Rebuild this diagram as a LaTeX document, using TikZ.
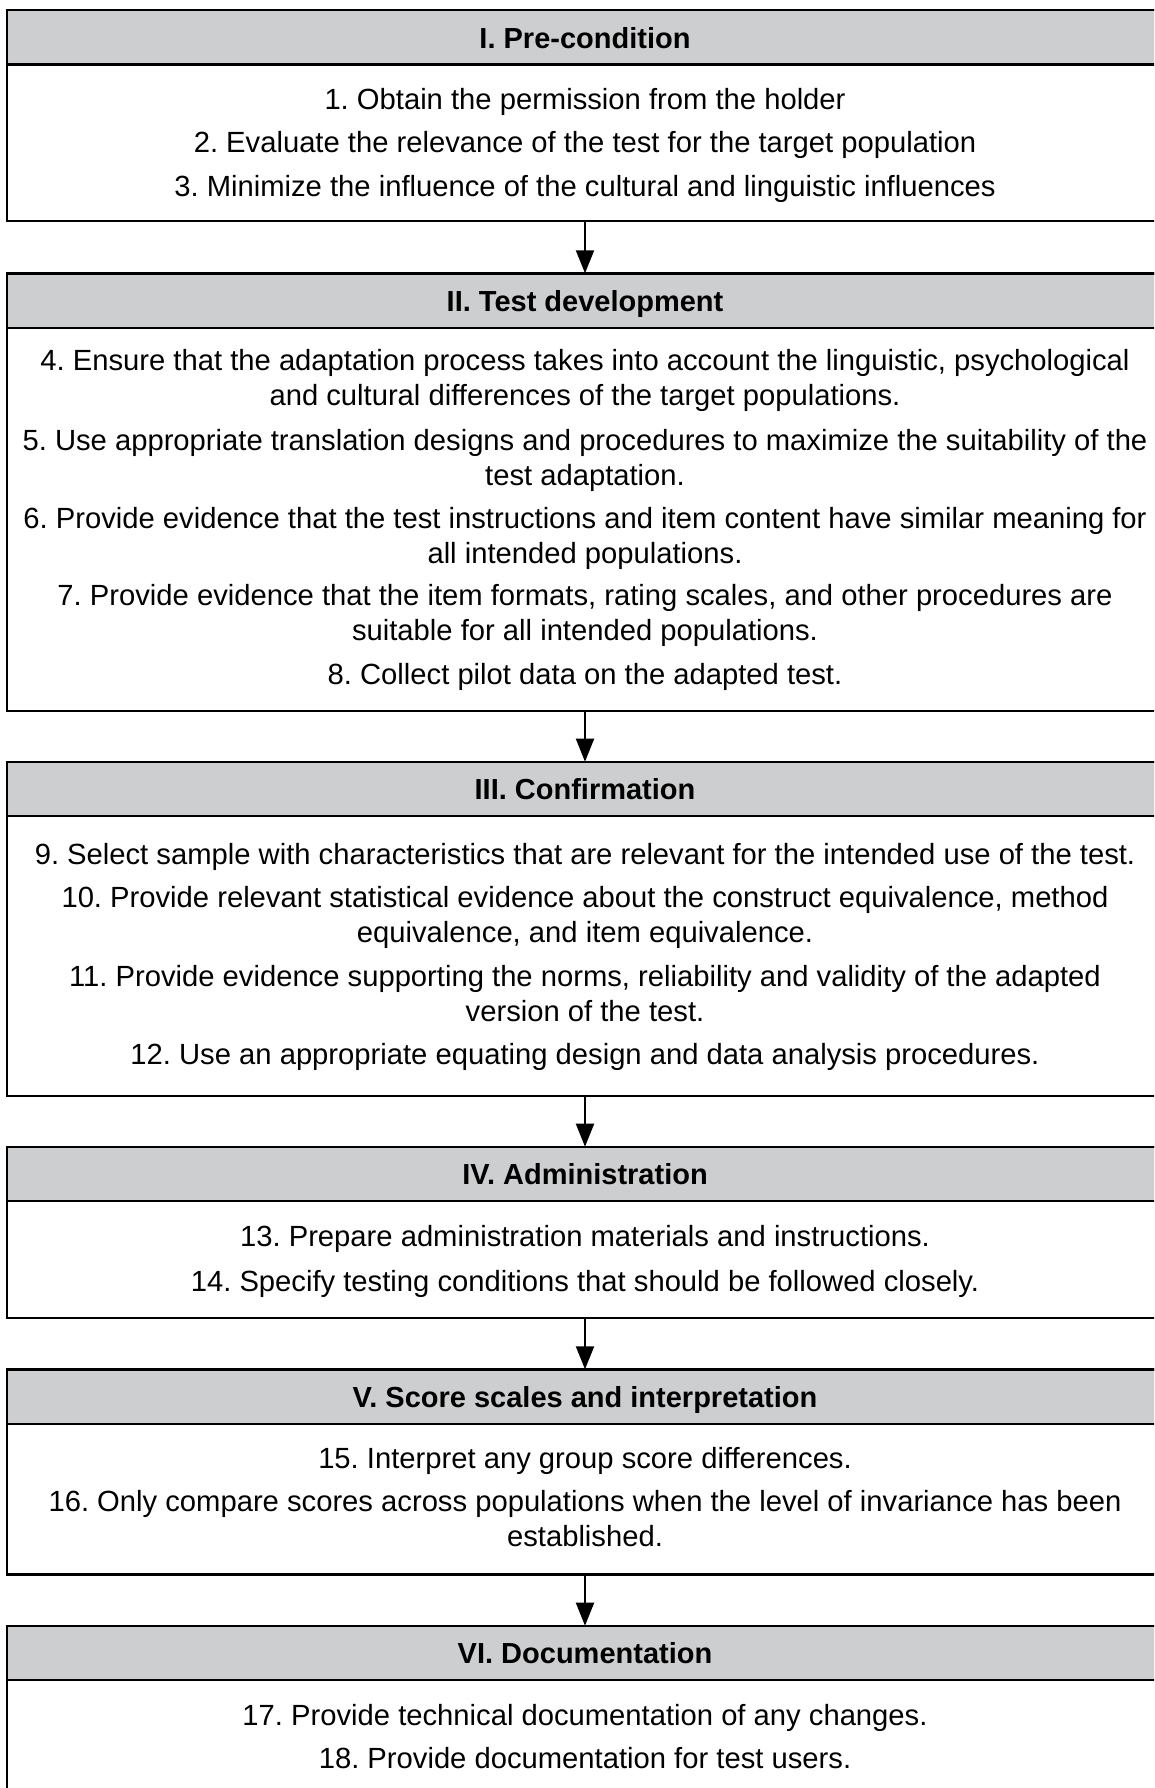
\documentclass[tikz,border=0pt]{standalone}
\usepackage{fontspec}
\setmainfont{Liberation Sans}
\usetikzlibrary{arrows.meta}
\definecolor{hdrgray}{RGB}{205,206,208}
\frenchspacing
\begin{document}
\begin{tikzpicture}[x=1pt,y=-1pt,
  stagebox/.style={draw=black,fill=white,line width=2.4pt,minimum width=1156pt,inner sep=0pt,outer sep=0pt,anchor=north west},
  hdrbox/.style={draw=black,fill=hdrgray,line width=2.4pt,minimum width=1156pt,minimum height=54.5pt,inner sep=0pt,outer sep=0pt,anchor=north west},
  htext/.style={anchor=base,inner sep=0pt,font=\fontsize{29}{35}\selectfont\bfseries\frenchspacing},
  btext/.style={anchor=base,inner sep=0pt,font=\fontsize{29.2}{35}\selectfont\frenchspacing},
  flow/.style={draw=black,line width=2pt,-{Triangle[length=23pt,width=18pt]}}]
\useasboundingbox (0,0) rectangle (1154,1788);
\clip (0,0) rectangle (1154,1788);
% boxes
\node[stagebox,minimum height=211pt] (b1) at (7,10) {};
\node[hdrbox] (h1) at (7,10) {};
\node[stagebox,minimum height=437.4pt] (b2) at (7,273.3) {};
\node[hdrbox] (h2) at (7,273.3) {};
\node[stagebox,minimum height=334.3pt] (b3) at (7,761.7) {};
\node[hdrbox] (h3) at (7,761.7) {};
\node[stagebox,minimum height=171pt] (b4) at (7,1146.7) {};
\node[hdrbox] (h4) at (7,1146.7) {};
\node[stagebox,minimum height=205pt] (b5) at (7,1369.3) {};
\node[hdrbox] (h5) at (7,1369.3) {};
\node[stagebox,minimum height=200pt] (b6) at (7,1625.7) {};
\node[hdrbox] (h6) at (7,1625.7) {};
% arrows
\draw[flow] (b1.south) -- (b2.north);
\draw[flow] (b2.south) -- (b3.north);
\draw[flow] (b3.south) -- (b4.north);
\draw[flow] (b4.south) -- (b5.north);
\draw[flow] (b5.south) -- (b6.north);
% headers
\node[htext] (t1) at (585,48.3) {I. Pre-condition};
\node[htext] (t2) at (585,311.5) {II. Test development};
\node[htext] (t3) at (585,799.9) {III. Confirmation};
\node[htext] (t4) at (585,1184.9) {IV. Administration};
\node[htext] (t5) at (585,1407.3) {V. Score scales and interpretation};
\node[htext] (t6) at (585,1663.9) {VI. Documentation};
% box I
\node[btext] (l1) at (585,109.3) {1. Obtain the permission from the holder};
\node[btext] (l2) at (585,152.7) {2. Evaluate the relevance of the test for the target population};
\node[btext] (l3) at (585,196.7) {3. Minimize the influence of the cultural and linguistic influences};
% box II
\node[btext] (l4a) at (585,370) {4. Ensure that the adaptation process takes into account the linguistic, psychological};
\node[btext] (l4b) at (585,405) {and cultural differences of the target populations.};
\node[btext] (l5a) at (585,450) {5. Use appropriate translation designs and procedures to maximize the suitability of the};
\node[btext] (l5b) at (585,485) {test adaptation.};
\node[btext] (l6a) at (585,528.3) {6. Provide evidence that the test instructions and item content have similar meaning for};
\node[btext] (l6b) at (585,563.3) {all intended populations.};
\node[btext] (l7a) at (585,605) {7. Provide evidence that the item formats, rating scales, and other procedures are};
\node[btext] (l7b) at (585,640) {suitable for all intended populations.};
\node[btext] (l8) at (585,684.3) {8. Collect pilot data on the adapted test.};
% box III
\node[btext] (l9) at (585,864) {9. Select sample with characteristics that are relevant for the intended use of the test.};
\node[btext] (l10a) at (585,907.7) {10. Provide relevant statistical evidence about the construct equivalence, method};
\node[btext] (l10b) at (585,942.7) {equivalence, and item equivalence.};
\node[btext] (l11a) at (585,986) {11. Provide evidence supporting the norms, reliability and validity of the adapted};
\node[btext] (l11b) at (585,1021) {version of the test.};
\node[btext] (l12) at (585,1064.3) {12. Use an appropriate equating design and data analysis procedures.};
% box IV
\node[btext] (l13) at (585,1246.7) {13. Prepare administration materials and instructions.};
\node[btext] (l14) at (585,1291.2) {14. Specify testing conditions that should be followed closely.};
% box V
\node[btext] (l15) at (585,1468.3) {15. Interpret any group score differences.};
\node[btext] (l16a) at (585,1511.7) {16. Only compare scores across populations when the level of invariance has been};
\node[btext] (l16b) at (585,1546.7) {established.};
% box VI
\node[btext] (l17) at (585,1725) {17. Provide technical documentation of any changes.};
\node[btext] (l18) at (585,1768.3) {18. Provide documentation for test users.};
\end{tikzpicture}
\end{document}
